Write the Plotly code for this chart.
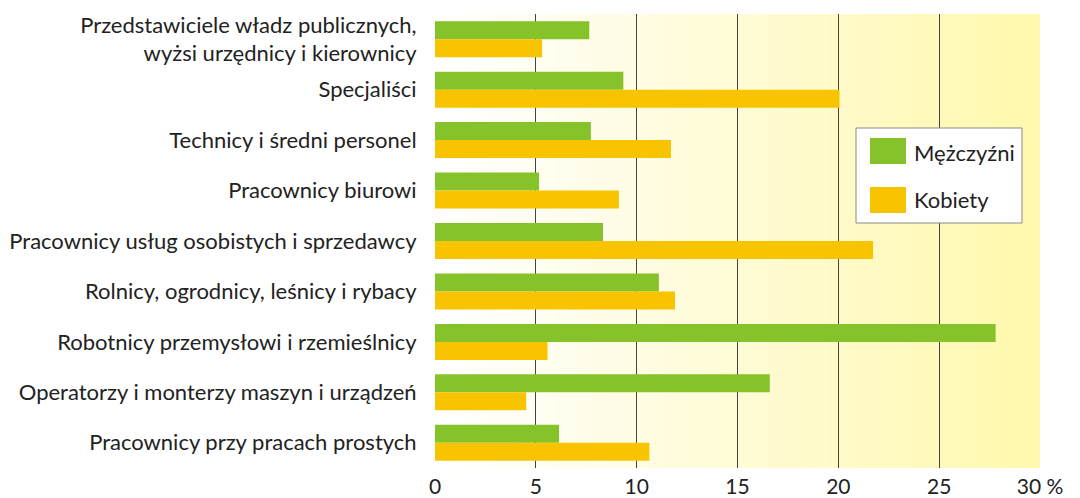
import plotly.graph_objects as go

categories = [
    "Przedstawiciele władz publicznych,<br>wyżsi urzędnicy i kierownicy",
    "Specjaliści",
    "Technicy i średni personel",
    "Pracownicy biurowi",
    "Pracownicy usług osobistych i sprzedawcy",
    "Rolnicy, ogrodnicy, leśnicy i rybacy",
    "Robotnicy przemysłowi i rzemieślnicy",
    "Operatorzy i monterzy maszyn i urządzeń",
    "Pracownicy przy pracach prostych",
]
men = [7.65, 9.34, 7.73, 5.16, 8.33, 11.1, 27.8, 16.6, 6.15]
women = [5.31, 20.06, 11.7, 9.12, 21.72, 11.9, 5.58, 4.52, 10.63]
tick_vals = [0, 5, 10, 15, 20, 25, 30]
tick_text = ["0", "5", "10", "15", "20", "25", "30 %"]
series_names = ["Mężczyźni", "Kobiety"]

GREEN = "#86C229"
YELLOW = "#F8C400"
FONT = "Lato"
FS = 22

# page body has an 8px margin; figure is sized/offset to compensate
OFF = 8
W, H = 1080 - OFF, 498 - OFF
PL, PR, PT, PB = 435, 1040, 14, 468  # plot area in screen pixels

fig = go.Figure()
fig.add_trace(go.Bar(y=categories, x=men, orientation="h", name=series_names[0],
                     marker=dict(color=GREEN, line=dict(width=0))))
fig.add_trace(go.Bar(y=categories, x=women, orientation="h", name=series_names[1],
                     marker=dict(color=YELLOW, line=dict(width=0))))

# background gradient (white -> pale yellow)
shapes = []
n = 60
c0 = (255, 255, 255)
c1 = (255, 248, 172)
for i in range(n):
    t = (i + 0.5) / n
    col = tuple(round(c0[k] + (c1[k] - c0[k]) * t) for k in range(3))
    shapes.append(dict(type="rect", xref="x", yref="paper",
                       x0=30 * i / n, x1=30 * (i + 1) / n + 0.02, y0=0, y1=1,
                       fillcolor="rgb(%d,%d,%d)" % col, line=dict(width=0), layer="below"))


def px_x(p):
    return (p - PL) / float(PR - PL)


def px_y(p):
    return (PB - p) / float(PB - PT)


shapes.append(dict(type="rect", xref="paper", yref="paper",
                   x0=px_x(856), x1=px_x(1022), y0=px_y(223), y1=px_y(128),
                   fillcolor="white", line=dict(color="#8a8a8a", width=1), layer="above"))
shapes.append(dict(type="rect", xref="paper", yref="paper",
                   x0=px_x(870), x1=px_x(906), y0=px_y(164), y1=px_y(138),
                   fillcolor=GREEN, line=dict(width=0), layer="above"))
shapes.append(dict(type="rect", xref="paper", yref="paper",
                   x0=px_x(870), x1=px_x(906), y0=px_y(213), y1=px_y(187),
                   fillcolor=YELLOW, line=dict(width=0), layer="above"))

annotations = [
    dict(xref="paper", yref="paper", x=px_x(912), y=px_y(152), text=series_names[0],
         showarrow=False, xanchor="left", yanchor="middle",
         font=dict(family=FONT, size=FS, color="#222")),
    dict(xref="paper", yref="paper", x=px_x(912), y=px_y(200), text=series_names[1],
         showarrow=False, xanchor="left", yanchor="middle",
         font=dict(family=FONT, size=FS, color="#222")),
]

fig.update_layout(
    width=W, height=H,
    margin=dict(l=PL - OFF, r=W + OFF - PR, t=PT - OFF, b=H + OFF - PB, pad=0,
                autoexpand=False),
    paper_bgcolor="white", plot_bgcolor="white",
    barmode="group", bargap=0.286, bargroupgap=0,
    showlegend=False,
    shapes=shapes, annotations=annotations,
    font=dict(family=FONT, size=FS, color="#222"),
    xaxis=dict(range=[0, 30], tickvals=tick_vals, ticktext=tick_text,
               showgrid=True, gridcolor="#444", gridwidth=1, automargin=False,
               zeroline=False, showline=False,
               ticks="outside", ticklen=0, tickcolor="rgba(0,0,0,0)",
               tickfont=dict(family=FONT, size=21, color="#222")),
    yaxis=dict(autorange="reversed", showgrid=False, zeroline=False, showline=False,
               automargin=False,
               ticks="outside", ticklen=13, tickcolor="rgba(0,0,0,0)",
               tickfont=dict(family=FONT, size=FS, color="#222")),
)

fig.write_html("out.html")
